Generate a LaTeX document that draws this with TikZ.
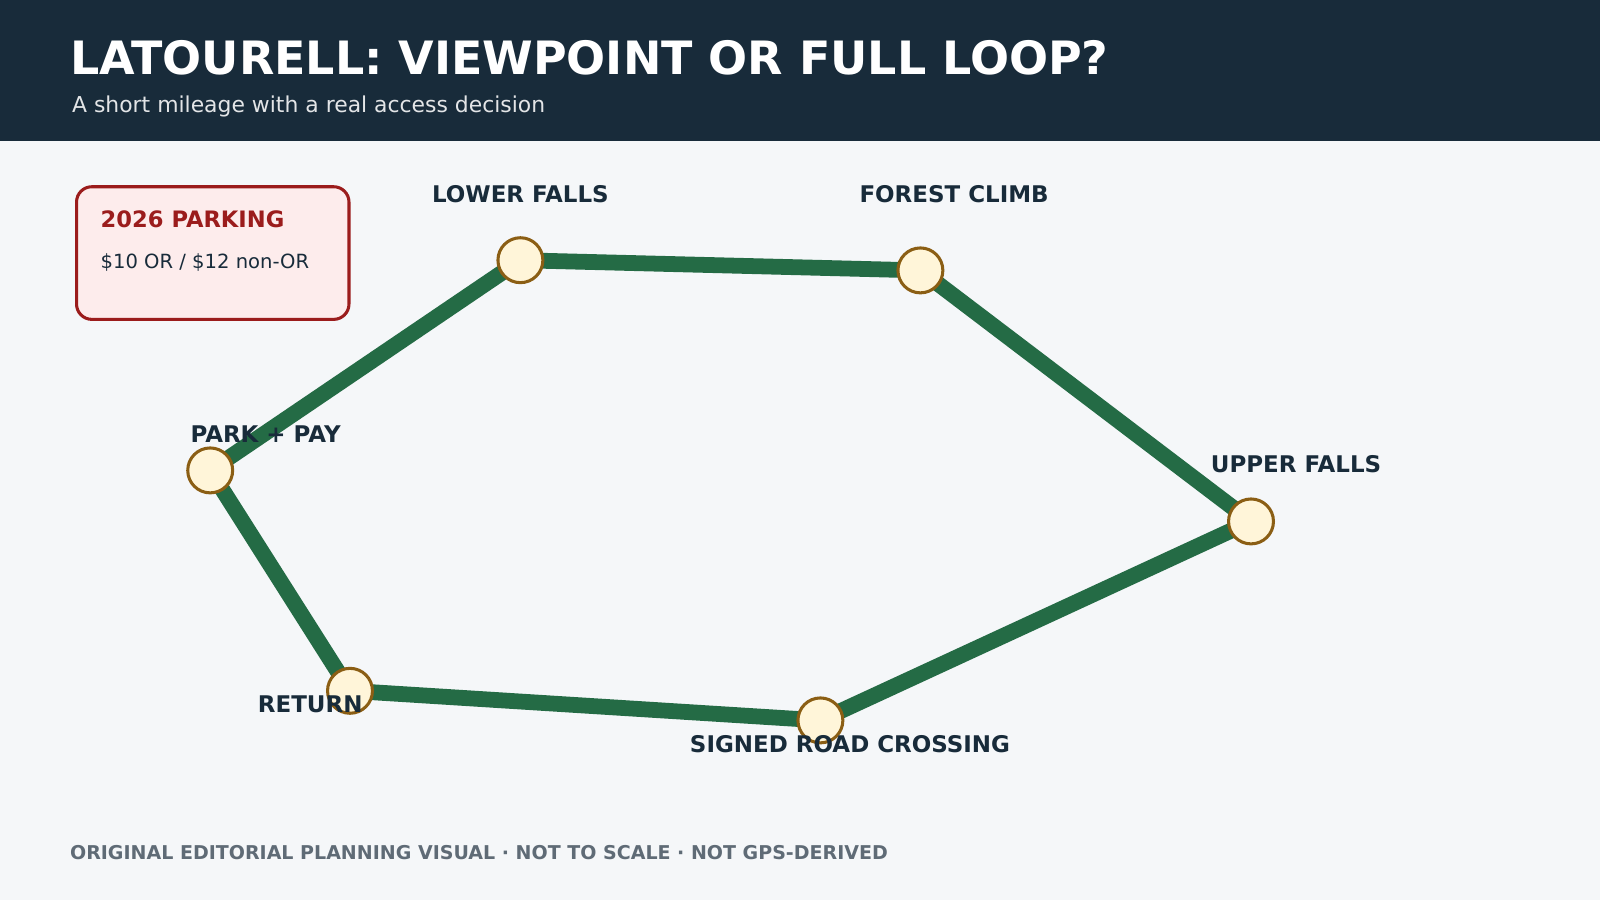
\documentclass[tikz,border=0pt]{standalone}
\usepackage{fontspec}
\setmainfont{DejaVu Sans}
\usetikzlibrary{positioning}
\definecolor{navy}{HTML}{182B3A}
\definecolor{paper}{HTML}{F5F7F9}
\definecolor{trail}{HTML}{246B45}
\definecolor{stopfill}{HTML}{FFF5D9}
\definecolor{stopdraw}{HTML}{8B5E14}
\definecolor{warnred}{HTML}{9B1C1C}
\definecolor{warnfill}{HTML}{FDECEC}
\definecolor{footgray}{HTML}{5F6B76}
\tikzset{
  stop/.style={circle, minimum size=0.44cm, inner sep=0pt, fill=stopfill, draw=stopdraw, line width=0.85pt},
  lbl/.style={font=\bfseries\fontsize{6.4}{7}\selectfont, text=navy, inner sep=0pt},
  leg/.style={line width=4.4pt, draw=trail}
}
\begin{document}
\begin{tikzpicture}[x=0.01cm,y=-0.01cm]
	\useasboundingbox (0,0) rectangle (1568,882);

	%Background
	\fill[paper] (0,0) rectangle (1568,882);
	\fill[navy] (0,0) rectangle (1568,138);
	\node[anchor=west, text=white, font=\bfseries\fontsize{12.8}{15}\selectfont, inner sep=0pt] (title) at (68,57) {LATOURELL: VIEWPOINT OR FULL LOOP?};
	\node[anchor=west, text=white!88!navy, font=\fontsize{6.1}{7}\selectfont, inner sep=0pt] (sub) at (70,104) {A short mileage with a real access decision};

	%Parking box
	\draw[line width=0.85pt, draw=warnred, fill=warnfill, rounded corners=0.15cm] (75,183) rectangle (342,313);
	\node[anchor=west, text=warnred, font=\bfseries\fontsize{6.3}{7}\selectfont, inner sep=0pt] (park) at (98,215) {2026 PARKING};
	\node[anchor=west, text=navy, font=\fontsize{5.45}{6}\selectfont, inner sep=0pt] (fee) at (98,257) {\$10 OR / \$12 non-OR};

	%Stops
	\coordinate (pp) at (206,461);
	\coordinate (lf) at (510,255);
	\coordinate (fc) at (902,265);
	\coordinate (uf) at (1226,511);
	\coordinate (sr) at (804,706);
	\coordinate (rt) at (343,677);

	%Trail
	\draw[leg] (pp) -- (lf) -- (fc) -- (uf) -- (sr) -- (rt) -- (pp);

	\node[stop] (ppn) at (pp) {};
	\node[stop] (lfn) at (lf) {};
	\node[stop] (fcn) at (fc) {};
	\node[stop] (ufn) at (uf) {};
	\node[stop] (srn) at (sr) {};
	\node[stop] (rtn) at (rt) {};

	%Labels
	\node[lbl, above=0.32cm of lfn] {LOWER FALLS};
	\node[lbl, above=0.42cm of fcn, xshift=0.33cm] {FOREST CLIMB};
	\node[lbl, anchor=west] at (186,425) {PARK + PAY};
	\node[lbl, anchor=west] at (1186,455) {UPPER FALLS};
	\node[lbl, anchor=east] at (356,690) {RETURN};
	\node[lbl, anchor=center] at (833,729) {SIGNED ROAD CROSSING};

	%Footer
	\node[anchor=west, text=footgray, font=\bfseries\fontsize{5.3}{6}\selectfont, inner sep=0pt] (foot) at (68,836) {ORIGINAL EDITORIAL PLANNING VISUAL · NOT TO SCALE · NOT GPS-DERIVED};
\end{tikzpicture}
\end{document}
